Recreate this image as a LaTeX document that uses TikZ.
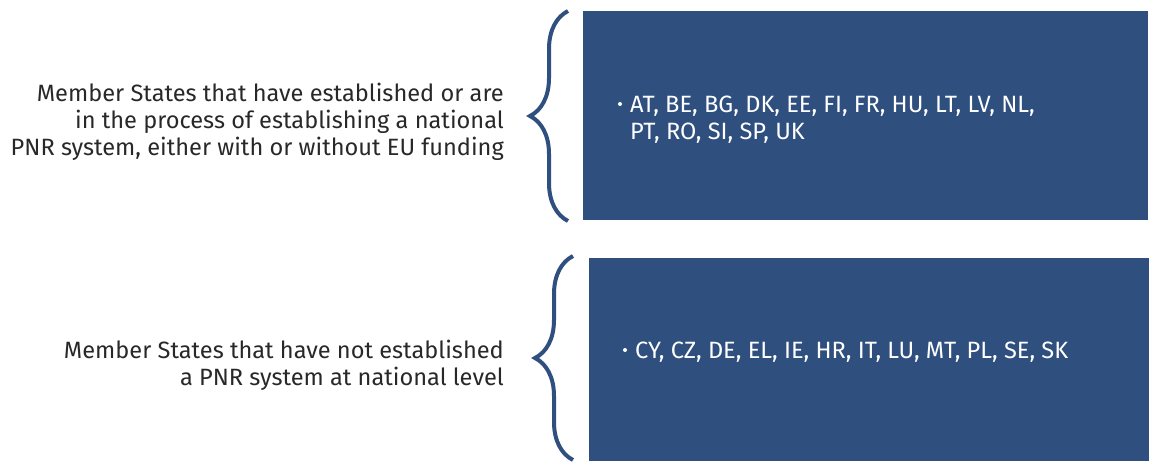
\documentclass[tikz,border=0pt]{standalone}
\usepackage{fontspec}
\setmainfont{Fira Sans}
\usetikzlibrary{decorations.pathreplacing}
\definecolor{panelblue}{RGB}{47,79,127}
\definecolor{labelgray}{RGB}{40,40,40}
\tikzset{
  panel/.style={fill=panelblue, draw=none, anchor=north west, inner sep=0pt},
  grouplabel/.style={align=right, anchor=east, text=labelgray, font=\fontsize{23.6}{27}\selectfont, inner sep=0pt},
  listtext/.style={align=left, anchor=base west, text=white, font=\fontsize{23.6}{27}\selectfont, inner sep=0pt},
  listdot/.style={circle, fill=white, minimum size=4pt, inner sep=0pt},
  groupbrace/.style={draw=panelblue, line width=4pt, decorate, decoration={brace, amplitude=38pt}}
}
\begin{document}
\begin{tikzpicture}[x=1pt,y=-1pt]
  \useasboundingbox (0,0) rectangle (1149,461);
    % nodes
    \node[panel, minimum width=565pt, minimum height=209pt] (topbox) at (583,11) {};
    \node[panel, minimum width=560pt, minimum height=203pt] (botbox) at (589,258) {};
    \node[grouplabel] (toplabel) at (504,122) {Member States that have established or are\\in the process of establishing a national\\PNR system, either with or without EU funding};
    \node[grouplabel] (botlabel) at (504,365) {Member States that have not established\\a PNR system at national level};
    \node[listdot] (topdot) at (620,104) {};
    \node[listtext] (toplist) at (630,112) {AT, BE, BG, DK, EE, FI, FR, HU, LT, LV, NL,};
    \node[listtext] (toplist2) at (630,139) {PT, RO, SI, SP, UK};
    \node[listdot] (botdot) at (625,350) {};
    \node[listtext] (botlist) at (635,358) {CY, CZ, DE, EL, IE, HR, IT, LU, MT, PL, SE, SK};
    % braces
    \coordinate (topbraceend) at (568,221);
    \coordinate (topbracestart) at (568,11);
    \coordinate (botbraceend) at (573,460);
    \coordinate (botbracestart) at (573,256);
    \draw[groupbrace] (topbraceend) -- (topbracestart);
    \draw[groupbrace] (botbraceend) -- (botbracestart);
\end{tikzpicture}
\end{document}
